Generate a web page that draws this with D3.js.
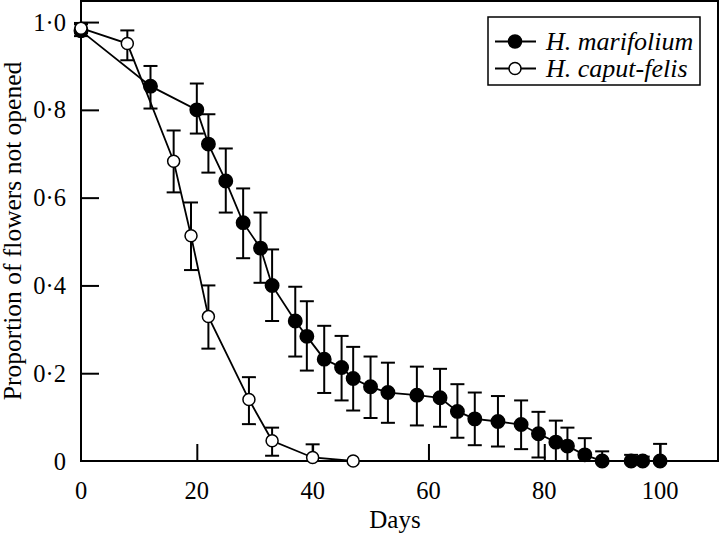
<!DOCTYPE html>
<html><head><meta charset="utf-8">
<script src="https://cdn.jsdelivr.net/npm/d3@7"></script>
<style>body{margin:0;background:#fff;} svg{display:block;}</style>
</head><body>
<svg id="c" width="720" height="533"></svg>
<script>
// H. marifolium (filled)
const marDays = [0,12,20,22,25,28,31,33,37,39,42,45,47,50,53,58,62,65,68,72,76,79,82,84,87,90,95,97,100];
const marVal  = [0.98,0.854,0.80,0.722,0.638,0.543,0.485,0.40,0.319,0.284,0.232,0.213,0.188,0.169,0.156,0.150,0.144,0.113,0.096,0.090,0.083,0.062,0.043,0.034,0.014,0,0,0,0];
const marHi   = [0.998,0.90,0.86,0.79,0.712,0.621,0.566,0.482,0.397,0.364,0.308,0.285,0.26,0.238,0.224,0.215,0.21,0.175,0.156,0.148,0.138,0.112,0.092,0.076,0.052,0.022,0.014,0.01,0.039];
const marLo   = [0.968,0.803,0.746,0.657,0.566,0.462,0.406,0.319,0.238,0.206,0.155,0.138,0.115,0.098,0.087,0.081,0.078,0.053,0.036,0.033,0.027,0.008,0,0,0,0,0,0,0];
// H. caput-felis (open)
const capDays = [0,8,16,19,22,29,33,40,47];
const capVal  = [0.986,0.951,0.683,0.513,0.329,0.14,0.046,0.008,0];
const capHi   = [0.995,0.981,0.753,0.589,0.40,0.191,0.076,0.038,0];
const capLo   = [0.975,0.913,0.612,0.435,0.256,0.084,0.012,0.008,0];

const xTicks = [0,20,40,60,80,100];
const yTicks = [0,0.2,0.4,0.6,0.8,1.0];
const seriesNames = ["H. marifolium","H. caput-felis"];

const svg = d3.select("#c");
const L=81, R=718, T=1, B=461;
const x = d3.scaleLinear().domain([0,110]).range([L,R]);
const y = d3.scaleLinear().domain([0,1.048]).range([B,T]);
const font = "'Liberation Serif','Times New Roman',serif";

// frame
svg.append("rect").attr("x",L).attr("y",T).attr("width",R-L).attr("height",B-T)
  .attr("fill","none").attr("stroke","#000").attr("stroke-width",2);

// axes
const fmt = v => v===0 ? "0" : d3.format(".1f")(v).replace(".", "\u00B7");
const ya = svg.append("g").attr("transform",`translate(${L},0)`)
  .call(d3.axisRight(y).tickValues(yTicks.filter(v=>v>0)).tickSize(18).tickFormat(""));
ya.select(".domain").remove();
ya.selectAll("line").attr("stroke-width",2);
svg.append("g").selectAll("text").data(yTicks).join("text")
  .attr("x",66).attr("y",d=>y(d)).attr("dy","0.35em").attr("text-anchor","end")
  .attr("font-family",font).attr("font-size",24.5).text(fmt);

const xa = svg.append("g").attr("transform",`translate(0,${B})`)
  .call(d3.axisTop(x).tickValues(xTicks.filter(v=>v>0)).tickSize(17).tickFormat(""));
xa.select(".domain").remove();
xa.selectAll("line").attr("stroke-width",2);
svg.append("g").selectAll("text").data(xTicks).join("text")
  .attr("x",d=>x(d)).attr("y",499).attr("text-anchor","middle")
  .attr("font-family",font).attr("font-size",24.5).text(d=>d);

svg.append("text").attr("x",395).attr("y",528).attr("text-anchor","middle")
  .attr("font-family",font).attr("font-size",25).text("Days");
svg.append("text").attr("transform",`translate(21,231) rotate(-90)`).attr("text-anchor","middle")
  .attr("font-family",font).attr("font-size",25.5).text("Proportion of flowers not opened");

function drawSeries(days, vals, hi, lo, filled){
  const pts = days.map((d,i)=>({d, v:vals[i], hi:hi[i], lo:lo[i]}));
  svg.append("path").datum(pts).attr("fill","none").attr("stroke","#000").attr("stroke-width",1.8)
    .attr("d", d3.line().x(p=>x(p.d)).y(p=>y(p.v)));
  const eb = svg.append("g").attr("stroke","#000").attr("stroke-width",2);
  pts.forEach(p=>{
    if (p.hi>p.v) {
      eb.append("line").attr("x1",x(p.d)).attr("x2",x(p.d)).attr("y1",y(p.v)).attr("y2",y(p.hi));
      eb.append("line").attr("x1",x(p.d)-7).attr("x2",x(p.d)+7).attr("y1",y(p.hi)).attr("y2",y(p.hi));
    }
    if (p.lo<p.v) {
      eb.append("line").attr("x1",x(p.d)).attr("x2",x(p.d)).attr("y1",y(p.v)).attr("y2",y(p.lo));
      eb.append("line").attr("x1",x(p.d)-7).attr("x2",x(p.d)+7).attr("y1",y(p.lo)).attr("y2",y(p.lo));
    }
  });
  svg.append("g").selectAll("circle").data(pts).join("circle")
    .attr("cx",p=>x(p.d)).attr("cy",p=>y(p.v)).attr("r",filled?6.7:6)
    .attr("fill",filled?"#000":"#fff").attr("stroke","#000").attr("stroke-width",1.5);
}
drawSeries(marDays, marVal, marHi, marLo, true);
drawSeries(capDays, capVal, capHi, capLo, false);

// legend
const lg = svg.append("g");
lg.append("rect").attr("x",488).attr("y",17).attr("width",212).attr("height",68)
  .attr("fill","#fff").attr("stroke","#000").attr("stroke-width",1.5);
seriesNames.forEach((n,i)=>{
  const yy = 41.5 + i*27;
  lg.append("line").attr("x1",495).attr("x2",536).attr("y1",yy).attr("y2",yy).attr("stroke","#000").attr("stroke-width",1.8);
  lg.append("circle").attr("cx",515).attr("cy",yy).attr("r",i===0?6.5:6)
    .attr("fill",i===0?"#000":"#fff").attr("stroke","#000").attr("stroke-width",1.5);
  lg.append("text").attr("x",546).attr("y",yy).attr("dy","0.33em")
    .attr("font-family",font).attr("font-style","italic").attr("font-size",26).text(n);
});
</script>
</body></html>
